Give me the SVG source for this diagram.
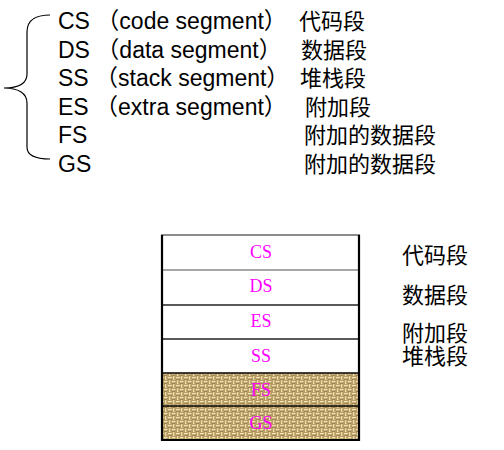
<svg xmlns="http://www.w3.org/2000/svg" width="504" height="450" viewBox="0 0 504 450">
<defs>
<style>
.lat{font-family:"Liberation Sans",Arial,"Noto Sans CJK SC",sans-serif;font-size:23px;fill:#000}
.cjk{font-family:"Noto Sans CJK SC","Noto Sans CJK JP",sans-serif;font-size:22px;fill:#000}
.cell{font-family:"Liberation Serif","Times New Roman",serif;font-size:18px;fill:#ff00ff;text-anchor:middle}
.wh{fill:#fff}
.div{stroke:#222;stroke-width:1.5}
</style>
<pattern id="burlap" width="8" height="8" patternUnits="userSpaceOnUse">
<rect width="8" height="8" fill="#b99d66"/>
<rect x="0" y="1" width="4" height="1.3" fill="#f2e4b4"/>
<rect x="5" y="0" width="1.3" height="4" fill="#ecdba6"/>
<rect x="4" y="5" width="4" height="1.3" fill="#f2e4b4"/>
<rect x="1" y="4" width="1.3" height="4" fill="#ecdba6"/>
<rect x="0" y="3" width="3" height="0.8" fill="#7a5c30" opacity="0.5"/>
<rect x="4" y="7" width="3" height="0.8" fill="#7a5c30" opacity="0.5"/>
<rect x="3" y="2" width="0.8" height="2" fill="#6f5228" opacity="0.4"/>
<rect x="7" y="5" width="0.8" height="2" fill="#6f5228" opacity="0.4"/>
</pattern>
</defs>
<rect width="504" height="450" fill="#fff"/>

<g id="connectors">
<path id="brace" d="M50,15 C38,15 27,19 27,32 L27,74 C27,84 18,88 4,88 C18,88 27,93 27,103 L27,147 C27,156 38,159 50,159" fill="none" stroke="#000" stroke-width="1.2"/>
</g>

<g id="list">
<g id="row-cs"><text class="lat" x="58" y="29">CS （code segment）</text><text class="cjk" x="299" y="29">代码段</text></g>
<g id="row-ds"><text class="lat" x="58" y="57.5">DS （data segment）</text><text class="cjk" x="301" y="57.5">数据段</text></g>
<g id="row-ss"><text class="lat" x="58" y="86">SS （stack segment）</text><text class="cjk" x="300" y="86">堆栈段</text></g>
<g id="row-es"><text class="lat" x="58" y="114.5">ES （extra segment）</text><text class="cjk" x="305" y="114.5">附加段</text></g>
<g id="row-fs"><text class="lat" x="58" y="143">FS</text><text class="cjk" x="304" y="143">附加的数据段</text></g>
<g id="row-gs"><text class="lat" x="58" y="171.5">GS</text><text class="cjk" x="304" y="171.5">附加的数据段</text></g>
</g>

<g id="memory">
<g id="cell-cs"><rect class="wh" x="162" y="235" width="197" height="35"/><text class="cell" x="261" y="258">CS</text></g>
<g id="cell-ds"><rect class="wh" x="162" y="270" width="197" height="35"/><text class="cell" x="261" y="292">DS</text></g>
<g id="cell-es"><rect class="wh" x="162" y="305" width="197" height="34"/><text class="cell" x="261" y="327">ES</text></g>
<g id="cell-ss"><rect class="wh" x="162" y="339" width="197" height="34"/><text class="cell" x="261" y="362">SS</text></g>
<g id="cell-fs"><rect fill="url(#burlap)" x="162" y="373" width="197" height="33"/><text class="cell" x="261" y="396">FS</text></g>
<g id="cell-gs"><rect fill="url(#burlap)" x="162" y="406" width="197" height="34"/><text class="cell" x="261" y="429">GS</text></g>
<line class="div" x1="162" y1="270" x2="359" y2="270" style="stroke:#888"/>
<line class="div" x1="162" y1="305" x2="359" y2="305"/>
<line class="div" x1="162" y1="339" x2="359" y2="339"/>
<line class="div" x1="162" y1="373" x2="359" y2="373" style="stroke:#000"/>
<line class="div" x1="162" y1="406" x2="359" y2="406" style="stroke:#000"/>
<line x1="161" y1="235" x2="360" y2="235" stroke="#666" stroke-width="1.5"/>
<path d="M162,235 L162,440 L359,440 L359,235" fill="none" stroke="#000" stroke-width="2.2"/>
</g>

<g id="labels">
<text class="cjk" x="402" y="263">代码段</text>
<text class="cjk" x="402" y="303">数据段</text>
<text class="cjk" x="402" y="341">附加段</text>
<text class="cjk" x="402" y="364">堆栈段</text>
</g>
</svg>
